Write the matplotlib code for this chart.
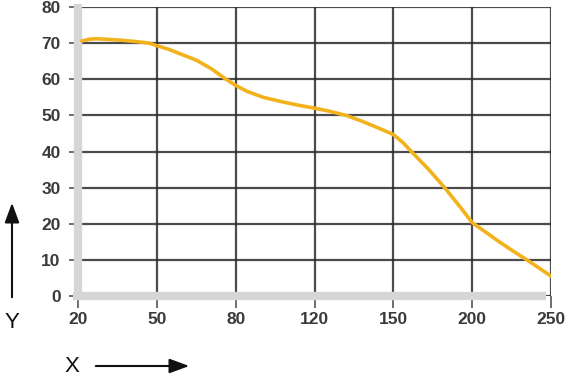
import matplotlib.pyplot as plt
from matplotlib.lines import Line2D
from matplotlib.patches import FancyArrowPatch

# x categories are placed evenly, not on a linear scale
x_labels = ['20', '50', '80', '120', '150', '200', '250']
y_ticks = [0, 10, 20, 30, 40, 50, 60, 70, 80]

# curve: position (in tick steps) and value
curve_pos = [0.05, 0.15, 0.25, 0.4, 0.55, 0.75, 0.9, 1.0, 1.15, 1.3, 1.5, 1.7, 1.85, 2.0,
             2.15, 2.35, 2.6, 2.8, 3.0, 3.2, 3.4, 3.6, 3.8, 4.0, 4.12, 4.25, 4.45, 4.65,
             4.85, 5.0, 5.15, 5.35, 5.55, 5.75, 6.0]
curve_val = [70.6, 71.1, 71.2, 71.0, 70.8, 70.4, 70.0, 69.3, 68.3, 67.0, 65.3, 62.8, 60.4, 58.3,
             56.6, 55.0, 53.7, 52.8, 52.0, 51.1, 50.0, 48.4, 46.6, 44.7, 42.5, 39.5, 35.0, 30.0,
             24.6, 20.3, 18.0, 14.9, 12.0, 9.2, 5.5]

plt.rcParams['font.family'] = ['Liberation Sans', 'DejaVu Sans']

fig = plt.figure(figsize=(5.7, 3.79), dpi=100)
ax = fig.add_axes([78 / 570, 1 - 296 / 379, (551 - 78) / 570, (296 - 7) / 379])

ax.set_xlim(0, len(x_labels) - 1)
ax.set_ylim(0, 80)
ax.set_xticks(range(len(x_labels)))
ax.set_xticklabels(x_labels)
ax.set_yticks(y_ticks)

for s in ax.spines.values():
    s.set_visible(False)

ax.grid(True, color='#2b2b2b', linewidth=1.6, alpha=0.85, zorder=1)
ax.set_axisbelow(True)

ax.tick_params(axis='both', colors='#555555', labelcolor='#3a3a3a', labelsize=12.5,
               direction='out', width=1.2)
ax.tick_params(axis='x', length=8.5, pad=3)
ax.tick_params(axis='y', length=6.5, pad=6)
for lab in ax.get_xticklabels() + ax.get_yticklabels():
    lab.set_fontweight('bold')

# light gray bands along left and bottom edges
ax.add_line(Line2D([0, 0], [-0.6, 80.8], color='#d6d6d6', linewidth=6, clip_on=False, zorder=2,
                   solid_capstyle='butt'))
ax.add_line(Line2D([-0.06, 5.94], [0, 0], color='#d6d6d6', linewidth=6, clip_on=False, zorder=2,
                   solid_capstyle='butt'))

ax.plot(curve_pos, curve_val, color='#f2b21b', linewidth=2.6, zorder=3,
        solid_capstyle='round', solid_joinstyle='round')

# axis names with arrows
fig.text(12 / 570, 1 - 322 / 379, 'Y', fontsize=16, ha='center', va='center', color='#111111')
fig.text(72 / 570, 1 - 366 / 379, 'X', fontsize=16, ha='center', va='center', color='#111111')
fig.add_artist(FancyArrowPatch(
    (12 / 570, 1 - 300 / 379), (12 / 570, 1 - 200 / 379), transform=fig.transFigure,
    arrowstyle='-|>,head_length=0.6,head_width=0.22', mutation_scale=20, color='#111111', linewidth=1.5))
fig.add_artist(FancyArrowPatch(
    (93 / 570, 1 - 366 / 379), (192 / 570, 1 - 366 / 379), transform=fig.transFigure,
    arrowstyle='-|>,head_length=0.6,head_width=0.22', mutation_scale=20, color='#111111', linewidth=1.5))

fig.savefig('out.png', dpi=100)
